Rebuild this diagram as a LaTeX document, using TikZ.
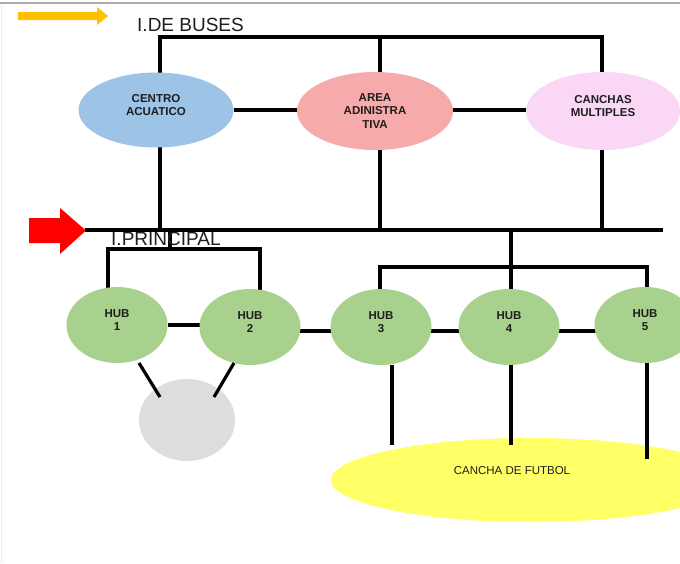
\documentclass[tikz,border=0pt]{standalone}
\usepackage{fontspec}
\setmainfont{Liberation Sans}
\usetikzlibrary{shapes.geometric,backgrounds}
\definecolor{cblue}{RGB}{157,195,230}
\definecolor{cpink}{RGB}{247,170,170}
\definecolor{clav}{RGB}{250,215,245}
\definecolor{cgreen}{RGB}{169,209,142}
\definecolor{cgray}{RGB}{221,221,221}
\definecolor{cyellow}{RGB}{255,255,102}
\definecolor{carrowy}{RGB}{255,192,0}
\definecolor{ctext}{RGB}{30,30,30}
\begin{document}
\begin{tikzpicture}[x=1pt,y=-1pt,
  bus/.style={line width=3.2pt,black},
  oval/.style={ellipse,inner sep=0pt,draw=none},
  lbl/.style={font=\fontsize{11.5}{13.5}\selectfont\bfseries,align=center,text=ctext,inner sep=0pt},
  ttl/.style={font=\fontsize{19}{19}\selectfont,text=ctext,inner sep=0pt,anchor=base west},
  hub/.style={oval,fill=cgreen,minimum width=101pt,minimum height=76pt}
  ]
\useasboundingbox (0,0) rectangle (680,563);

% title texts
\node[ttl] (tbuses) at (137,31) {I.DE BUSES};

% top ellipses
\node[oval,fill=cblue,minimum width=155pt,minimum height=75pt,
  label={[lbl,yshift=5pt]center:CENTRO\\ACUATICO}] (ca) at (156,110) {};
\node[oval,fill=cpink,minimum width=156pt,minimum height=78pt,
  label={[lbl]center:AREA\\ADINISTRA\\TIVA}] (ar) at (375,111) {};
\node[oval,fill=clav,minimum width=154pt,minimum height=78pt,
  label={[lbl,yshift=5pt]center:CANCHAS\\MULTIPLES}] (cm) at (603,111) {};

% hubs
\node[hub,label={[lbl,yshift=5pt]center:HUB\\1}] (h1) at (117,325) {};
\node[hub,label={[lbl,yshift=5pt]center:HUB\\2}] (h2) at (250,327) {};
\node[hub,label={[lbl,yshift=5pt]center:HUB\\3}] (h3) at (381,327) {};
\node[hub,label={[lbl,yshift=5pt]center:HUB\\4}] (h4) at (509,327) {};
\node[hub,label={[lbl,yshift=5pt]center:HUB\\5}] (h5) at (645,325) {};

% gray circle and football field
\node[oval,fill=cgray,minimum width=96pt,minimum height=82pt] (gc) at (187,420) {};
\node[oval,fill=cyellow,minimum width=400pt,minimum height=84pt,
  label={[font=\fontsize{11.5}{13.5}\selectfont,text=ctext,inner sep=0pt,xshift=-19pt,yshift=9pt]center:CANCHA DE FUTBOL}] (cf) at (531,480) {};

% coordinates
\coordinate (tb1) at (160,37);
\coordinate (tb2) at (380,37);
\coordinate (tb3) at (602,37);
\coordinate (mbL) at (85,230);
\coordinate (mbR) at (663,230);
\coordinate (j1) at (170,230);
\coordinate (k1) at (108,249);
\coordinate (k2) at (260,249);
\coordinate (j2) at (511,230);
\coordinate (k3) at (380,267);
\coordinate (k5) at (647,267);
\coordinate (g1a) at (139,363);
\coordinate (g1b) at (160,397);
\coordinate (g2a) at (234,363);
\coordinate (g2b) at (214,397);
\coordinate (f3) at (392,445);
\coordinate (f4) at (511,445);
\coordinate (f5) at (647,459);

\begin{pgfonlayer}{background}
  \fill[white] (0,0) rectangle (680,563);
  \draw[gray!65,line width=2pt] (0,3) -- (680,3);
  \draw[gray!15,line width=1pt] (1,4) -- (1,563);
  % yellow arrow
  \fill[carrowy] (18,12) -- (97,12) -- (97,7) -- (108,16) -- (97,25) -- (97,20) -- (18,20) -- cycle;
  % red arrow
  \fill[red] (29,218) -- (60,218) -- (60,208) -- (86,230.5) -- (60,254) -- (60,243) -- (29,243) -- cycle;
  % top bus
  \draw[bus] (tb1 |- mbL) -- (tb1) -- (tb3) -- (tb3 |- mbL);
  \draw[bus] (tb2) -- (tb2 |- mbL);
  \draw[bus] (ca) -- (ca -| cm);
  % main bus
  \draw[bus] (mbL) -- (mbR);
  % hubs 1-2 tree
  \draw[bus] (j1) -- (j1 |- k1);
  \draw[bus] (k1 |- h1) -- (k1) -- (k2) -- (k2 |- h2);
  % hubs 3-5 tree
  \draw[bus] (j2) -- (j2 |- h4);
  \draw[bus] (k3 |- h3) -- (k3) -- (k5) -- (k5 |- h5);
  % hub chain
  \draw[bus] (h1) -- (h1 -| h2);
  \draw[bus] ([yshift=-4pt]h2.center) -- ([yshift=-4pt]h3.center);
  \draw[bus] ([yshift=-4pt]h3.center) -- ([yshift=-4pt]h4.center);
  \draw[bus] ([yshift=-4pt]h4.center) -- ([yshift=-6pt]h5.center);
\end{pgfonlayer}

\node[ttl] (tprin) at (111,245) {I.PRINCIPAL};

% links to gray circle
\draw[bus] (g1a) -- (g1b);
\draw[bus] (g2a) -- (g2b);
% links to football field
\draw[bus] (f3 |- h3.south) -- (f3);
\draw[bus] (f4 |- h4.south) -- (f4);
\draw[bus] (f5 |- h5.south) -- (f5);
\end{tikzpicture}
\end{document}
